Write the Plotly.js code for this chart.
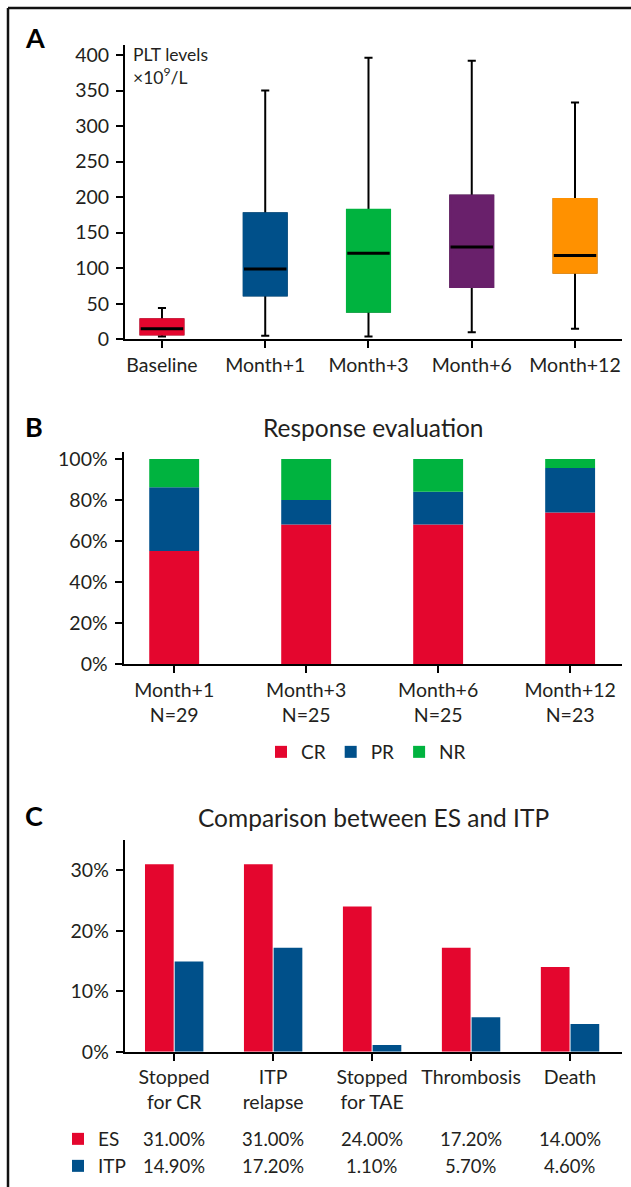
<!DOCTYPE html>
<html>
<head>
<meta charset="utf-8">
<script src="https://cdn.plot.ly/plotly-3.0.1.min.js"></script>
<style>html,body{margin:0;padding:0;background:#fff;}#chart{width:631px;height:1187px;}</style>
</head>
<body>
<div id="chart"></div>
<script>
// ---------- Panel A: PLT levels (box summary) ----------
const timepointsA = ['Baseline', 'Month+1', 'Month+3', 'Month+6', 'Month+12'];
const lowA    = [4, 5, 4, 10, 15];
const q1A     = [7, 62, 39, 74, 94];
const medianA = [15, 99, 121, 130, 118];
const q3A     = [28, 177, 182, 202, 197];
const highA   = [44, 350, 396, 392, 333];
const colorsA = ['#E4062E', '#00508A', '#00B33F', '#69206B', '#FF9100'];
const yTicksA = [0, 50, 100, 150, 200, 250, 300, 350, 400];

// ---------- Panel B: Response evaluation ----------
const monthsB = ['Month+1', 'Month+3', 'Month+6', 'Month+12'];
const nB      = [29, 25, 25, 23];
const crB     = [55.2, 68, 68, 73.9];
const prB     = [31.0, 12, 16, 21.7];
const nrB     = [13.8, 20, 16, 4.4];
const yTicksB = [0, 20, 40, 60, 80, 100];

// ---------- Panel C: Comparison between ES and ITP ----------
const eventsC = ['Stopped<br>for CR', 'ITP<br>relapse', 'Stopped<br>for TAE', 'Thrombosis', 'Death'];
const esC     = [31.00, 31.00, 24.00, 17.20, 14.00];
const itpC    = [14.90, 17.20, 1.10, 5.70, 4.60];
const yTicksC = [0, 10, 20, 30];

const RED = '#E4062E', BLUE = '#00508A', GREEN = '#00B33F';
const W = 631, H = 1187;
const px = v => v / W;
const py = v => 1 - v / H;
const FONT = 'Lato, "Open Sans", sans-serif';
const TXT = '#231F20';
const TICK = 19.5;

const categoriesB = monthsB.map((m, i) => m + '<br>N=' + nB[i]);
const pct = arr => arr.map(v => v + '%');

const data = [];

// A: black whiskers/caps
data.push({
  type: 'box', x: timepointsA, q1: q1A, median: medianA, q3: q3A,
  lowerfence: lowA, upperfence: highA,
  xaxis: 'x', yaxis: 'y', boxpoints: false, width: 0.413, whiskerwidth: 0.19,
  line: {color: '#000', width: 2}, fillcolor: 'rgba(0,0,0,0)',
  showlegend: false, hoverinfo: 'skip'
});
// A: coloured boxes (outline in fill colour)
timepointsA.forEach((t, i) => {
  data.push({
    type: 'box', x: [t], q1: [q1A[i]], median: [medianA[i]], q3: [q3A[i]],
    lowerfence: [q1A[i]], upperfence: [q3A[i]],
    xaxis: 'x', yaxis: 'y', boxpoints: false, width: 0.413, whiskerwidth: 0,
    line: {color: colorsA[i], width: 2.5}, fillcolor: colorsA[i],
    showlegend: false, hoverinfo: 'skip'
  });
});
// A: black median lines
data.push({
  type: 'scatter', mode: 'markers', x: timepointsA, y: medianA,
  xaxis: 'x', yaxis: 'y',
  marker: {symbol: 'line-ew', size: 30.3, color: '#000', line: {color: '#000', width: 3}},
  showlegend: false, hoverinfo: 'skip'
});

// B: stacked bars via explicit bases
const basePR = crB.slice();
const baseNR = crB.map((v, i) => v + prB[i]);
const barB = {xaxis: 'x2', yaxis: 'y2', width: 0.378, offset: -0.189, legend: 'legend', hoverinfo: 'skip'};
data.push(Object.assign({type: 'bar', name: 'CR', x: categoriesB, y: crB, marker: {color: RED}}, barB));
data.push(Object.assign({type: 'bar', name: 'PR', x: categoriesB, y: prB, base: basePR, marker: {color: BLUE}}, barB));
data.push(Object.assign({type: 'bar', name: 'NR', x: categoriesB, y: nrB, base: baseNR, marker: {color: GREEN}}, barB));

// C: grouped bars
data.push({type: 'bar', name: 'ES', x: eventsC, y: esC, xaxis: 'x3', yaxis: 'y3',
  width: 0.29, offset: -0.295, marker: {color: RED}, legend: 'legend2', hoverinfo: 'skip'});
data.push({type: 'bar', name: 'ITP', x: eventsC, y: itpC, xaxis: 'x3', yaxis: 'y3',
  width: 0.29, offset: 0.005, marker: {color: BLUE}, legend: 'legend3', hoverinfo: 'skip'});

const axBase = {
  showline: true, linewidth: 2, linecolor: '#000', ticks: 'outside', ticklen: 7,
  tickwidth: 2, tickcolor: '#000', showgrid: false, zeroline: false, fixedrange: true,
  tickfont: {family: FONT, size: TICK, color: TXT}
};
const yAx = {ticklabelstandoff: 3};

const annotations = [];
const letter = (t, x, y) => ({text: '<b>' + t + '</b>', x: px(x), y: py(y), xref: 'paper', yref: 'paper',
  showarrow: false, xanchor: 'center', yanchor: 'middle', font: {family: FONT, size: 27, color: '#000'}});
annotations.push(letter('A', 35, 37));
annotations.push(letter('B', 34, 426));
annotations.push(letter('C', 34, 815));
annotations.push({text: 'Response evaluation', x: px(373), y: py(427), xref: 'paper', yref: 'paper',
  showarrow: false, xanchor: 'center', yanchor: 'middle', font: {family: FONT, size: 24.5, color: TXT}});
annotations.push({text: 'Comparison between ES and ITP', x: px(373), y: py(817), xref: 'paper', yref: 'paper',
  showarrow: false, xanchor: 'center', yanchor: 'middle', font: {family: FONT, size: 24.5, color: TXT}});
annotations.push({text: 'PLT levels<br>×10<sup>9</sup>/L', x: px(131), y: py(66), xref: 'paper', yref: 'paper',
  showarrow: false, xanchor: 'left', yanchor: 'middle', align: 'left', font: {family: FONT, size: 17.5, color: TXT}});
// C: value table
eventsC.forEach((e, i) => {
  annotations.push({text: esC[i].toFixed(2) + '%', x: i, y: py(1139), xref: 'x3', yref: 'paper',
    showarrow: false, xanchor: 'center', yanchor: 'middle', font: {family: FONT, size: 18.5, color: TXT}});
  annotations.push({text: itpC[i].toFixed(2) + '%', x: i, y: py(1166), xref: 'x3', yref: 'paper',
    showarrow: false, xanchor: 'center', yanchor: 'middle', font: {family: FONT, size: 18.5, color: TXT}});
});

const legBase = {bgcolor: 'rgba(0,0,0,0)', font: {family: FONT, size: 19, color: TXT}, traceorder: 'normal'};

const layout = {
  width: W, height: H, margin: {l: 0, r: 0, t: 0, b: 0},
  paper_bgcolor: '#fff', plot_bgcolor: 'rgba(0,0,0,0)',
  font: {family: FONT, size: 18, color: TXT},
  barmode: 'overlay', boxmode: 'overlay',
  xaxis: Object.assign({}, axBase, {domain: [px(125), px(622)], range: [-0.358, 4.455], type: 'category', anchor: 'y'}),
  yaxis: Object.assign({}, axBase, yAx, {domain: [py(339.3), py(45)], range: [0, 414], tickmode: 'array', tickvals: yTicksA, anchor: 'x'}),
  xaxis2: Object.assign({}, axBase, {domain: [px(123.5), px(622)], range: [-0.384, 3.393], type: 'category', anchor: 'y2'}),
  yaxis2: Object.assign({}, axBase, yAx, {domain: [py(664.3), py(451.7)], range: [0, 103.5], tickmode: 'array', tickvals: yTicksB, ticktext: pct(yTicksB), anchor: 'x2'}),
  xaxis3: Object.assign({}, axBase, {domain: [px(124.7), px(622)], range: [-0.5, 4.525], type: 'category', anchor: 'y3'}),
  yaxis3: Object.assign({}, axBase, yAx, {domain: [py(1051.7), py(840)], range: [0, 35], tickmode: 'array', tickvals: yTicksC, ticktext: pct(yTicksC), anchor: 'x3'}),
  showlegend: true,
  legend: Object.assign({}, legBase, {orientation: 'h', x: px(366), xanchor: 'center', y: py(752), yanchor: 'middle'}),
  legend2: Object.assign({}, legBase, {orientation: 'v', x: px(58), xanchor: 'left', y: py(1139), yanchor: 'middle'}),
  legend3: Object.assign({}, legBase, {orientation: 'v', x: px(58), xanchor: 'left', y: py(1166), yanchor: 'middle'}),
  annotations: annotations,
  shapes: [
    {type: 'line', xref: 'paper', yref: 'paper', x0: px(8), x1: px(8), y0: 0, y1: py(8), line: {color: '#111', width: 2.5}},
    {type: 'line', xref: 'paper', yref: 'paper', x0: px(8), x1: 1, y0: py(8), y1: py(8), line: {color: '#111', width: 2.5}}
  ]
};

Plotly.newPlot('chart', data, layout, {displayModeBar: false, staticPlot: true});
</script>
</body>
</html>
